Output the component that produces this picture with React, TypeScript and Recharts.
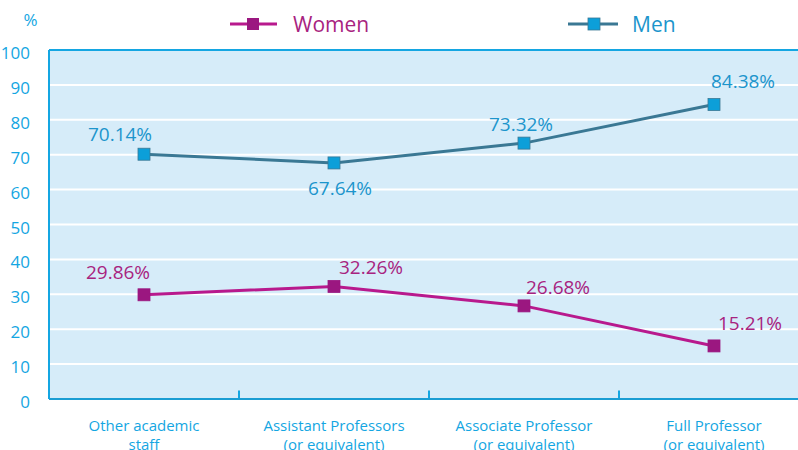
import { LineChart, Line, XAxis, YAxis, CartesianGrid, ReferenceLine } from "recharts";

const CATEGORIES = [
  ["Other academic", "staff"],
  ["Assistant Professors", "(or equivalent)"],
  ["Associate Professor", "(or equivalent)"],
  ["Full Professor", "(or equivalent)"],
];
const WOMEN = [29.86, 32.26, 26.68, 15.21];
const MEN = [70.14, 67.64, 73.32, 84.38];
const Y_TICKS = [0, 10, 20, 30, 40, 50, 60, 70, 80, 90, 100];
const BOUNDARIES = [1, 2, 3];

// label nudges (px) so the value labels sit where the original put them
const WOMEN_LABEL_OFFSETS = [[-26, -23], [37, -19], [34, -19], [36, -23]];
const MEN_LABEL_OFFSETS = [[-24, -20], [6, 25], [-3, -19], [29, -24]];

const FONT = "'Open Sans', sans-serif";
const AXIS_BLUE = "#14a6e2";
const WOMEN_LINE = "#b8198d";
const WOMEN_DOT = "#9b1780";
const WOMEN_TEXT = "#a8237f";
const MEN_LINE = "#3a7894";
const MEN_DOT = "#0c9fd9";
const MEN_TEXT = "#1c95cc";

const data = CATEGORIES.map((c, i) => ({
  x: i + 0.5,
  women: WOMEN[i],
  men: MEN[i],
}));

const SquareDot = (fill: string, stroke: string) => (props: any) => {
  const { cx, cy, index } = props;
  return <rect key={index} x={cx - 6} y={cy - 6} width={12} height={12} fill={fill} stroke={stroke} strokeWidth={0.8} />;
};

const valueLabel = (color: string, offsets: number[][]) => (props: any) => {
  const { x, y, value, index } = props;
  const [dx, dy] = offsets[index];
  return (
    <text key={index} x={x + dx} y={y + dy} textAnchor="middle" dominantBaseline="central" fill={color} fontSize={19} fontFamily={FONT}>
      {value.toFixed(2)}%
    </text>
  );
};

const CategoryTick = (props: any) => {
  const { x, y, payload } = props;
  const idx = Math.round(payload.value - 0.5);
  const lines = CATEGORIES[idx] || [];
  return (
    <text x={x} y={y} textAnchor="middle" fill={AXIS_BLUE} fontSize={15} fontFamily={FONT}>
      {lines.map((l, i) => (
        <tspan key={i} x={x} dy={i === 0 ? 24 : 19}>{l}</tspan>
      ))}
    </text>
  );
};

const ChartLegend = () => (
  <svg width={798} height={45} style={{ position: "absolute", left: 0, top: 0 }}>
    <line x1={230} y1={24} x2={277} y2={24} stroke={WOMEN_LINE} strokeWidth={3} />
    <rect x={247} y={18} width={12} height={12} fill={WOMEN_DOT} />
    <text x={293} y={24} dominantBaseline="central" fill={WOMEN_TEXT} fontSize={21} fontFamily={FONT}>Women</text>
    <line x1={568} y1={24} x2={618} y2={24} stroke={MEN_LINE} strokeWidth={3} />
    <rect x={588} y={18} width={12} height={12} fill={MEN_DOT} stroke={MEN_LINE} strokeWidth={0.8} />
    <text x={632} y={24} dominantBaseline="central" fill={MEN_TEXT} fontSize={21} fontFamily={FONT}>Men</text>
  </svg>
);

export default function App() {
  return (
    <div style={{ position: "absolute", left: 0, top: 0, width: 798, height: 450, overflow: "hidden", background: "#fff" }}>
      <LineChart width={820} height={450} data={data} margin={{ top: 50, right: 11, bottom: 0, left: 0 }}>
        <CartesianGrid horizontal vertical={false} stroke="#ffffff" strokeWidth={2} fill="#d6ecf9" fillOpacity={1} />
        <XAxis
          dataKey="x"
          type="number"
          domain={[0, 4]}
          ticks={data.map((d) => d.x)}
          tick={<CategoryTick />}
          tickLine={false}
          axisLine={{ stroke: "#1a9dd3", strokeWidth: 2 }}
          interval={0}
          height={51}
        />
        <YAxis
          domain={[0, 100]}
          ticks={Y_TICKS}
          width={49}
          tickLine={false}
          tickMargin={13}
          axisLine={{ stroke: AXIS_BLUE, strokeWidth: 2 }}
          tick={{ fill: AXIS_BLUE, fontSize: 17, fontFamily: FONT, dy: 3 }}
          label={{ value: "%", position: "top", offset: 0, dy: -24, dx: 6, fill: AXIS_BLUE, fontSize: 17, fontFamily: FONT }}
        />
        <ReferenceLine y={100} stroke={AXIS_BLUE} strokeWidth={2} />
        {BOUNDARIES.map((b) => (
          <ReferenceLine key={b} segment={[{ x: b, y: 0 }, { x: b, y: 2.4 }]} stroke={AXIS_BLUE} strokeWidth={2} />
        ))}
        <Line
          dataKey="women"
          name="Women"
          stroke={WOMEN_LINE}
          strokeWidth={3}
          dot={SquareDot(WOMEN_DOT, WOMEN_DOT)}
          activeDot={false}
          label={valueLabel(WOMEN_TEXT, WOMEN_LABEL_OFFSETS)}
          isAnimationActive={false}
        />
        <Line
          dataKey="men"
          name="Men"
          stroke={MEN_LINE}
          strokeWidth={3}
          dot={SquareDot(MEN_DOT, MEN_LINE)}
          activeDot={false}
          label={valueLabel(MEN_TEXT, MEN_LABEL_OFFSETS)}
          isAnimationActive={false}
        />
      </LineChart>
      <ChartLegend />
    </div>
  );
}
